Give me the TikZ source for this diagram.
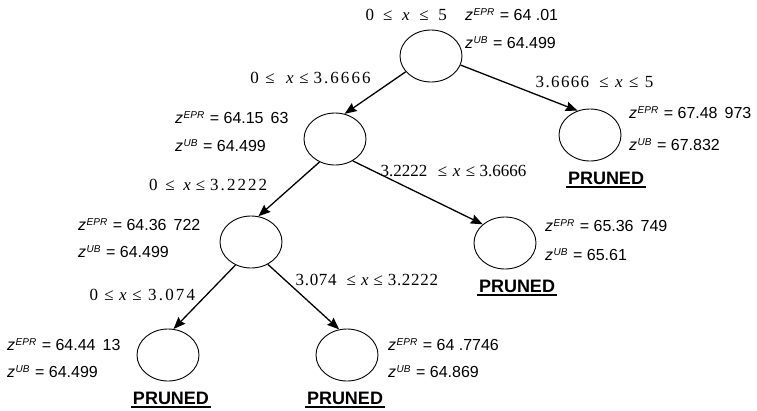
\documentclass[tikz,border=0pt]{standalone}
\usepackage{fontspec}
\setmainfont{Liberation Serif}
\setsansfont{Liberation Sans}
\usetikzlibrary{arrows.meta,shapes.geometric}

% interval constraint a <= x <= b, with letter spacing #1 for the numbers and gaps #3..#6 (pt)
\newcommand\bnd[7]{{\addfontfeature{LetterSpace=#1}#2}\hspace{#3pt}≤\hspace{#4pt}\textit{x}\hspace{#5pt}≤\hspace{#6pt}{\addfontfeature{LetterSpace=#1}#7}}
% objective value / upper bound of a subproblem
\newcommand\zval[2]{\textit{z}\hspace{0.5pt}\raisebox{5pt}{\fontsize{10}{10}\selectfont\itshape #1}\hspace{5.5pt}=\hspace{4.5pt}#2}
\newcommand\zsp{\hspace{7pt}}

\begin{document}
\begin{tikzpicture}[x=1pt,y=-1pt,
  bb/.style={ellipse,draw,line width=0.9pt,minimum width=62pt,minimum height=52pt,inner sep=0pt},
  branch/.style={line width=1.3pt,-{Stealth[length=12pt,width=9.5pt,inset=1.5pt]}},
  rangelbl/.style={anchor=base west,inner sep=0pt,font=\fontsize{17}{19}\selectfont},
  zlbl/.style={anchor=base west,inner sep=0pt,font=\sffamily\fontsize{16}{18}\selectfont},
  prunedlbl/.style={anchor=base,inner sep=0pt,font=\sffamily\bfseries\fontsize{18}{20}\selectfont},
  uline/.style={line width=1.2pt}
]
\useasboundingbox (0,0) rectangle (757,410);

% subproblems
\node[bb] (root) at (431,56) {};
\node[bb] (l1) at (335,139) {};
\node[bb] (r1) at (590,135) {};
\node[bb] (l2) at (251,242) {};
\node[bb] (r2) at (505,243) {};
\node[bb] (ll3) at (168,355) {};
\node[bb] (lr3) at (347,355) {};

% branches
\draw[branch] (root.212) -- (l1.69);
\draw[branch] (root.343) -- (r1.117);
\draw[branch] (l1.236) -- (l2.74);
\draw[branch] (l1.309) -- (r2.140);
\draw[branch] (l2.236) -- (ll3.78);
\draw[branch] (l2.307) -- (lr3.107);

% branching constraints
\node[rangelbl] (c0) at (365.5,20) {\bnd{0}{0}{9}{9.6}{9.7}{9.6}{5}};
\node[rangelbl] (c1) at (250.2,83) {\bnd{12}{0}{6.5}{11.5}{5.5}{5}{3.6666}};
\node[rangelbl] (c2) at (535.5,87) {\bnd{8}{3.6666}{10}{6.5}{6.5}{6.5}{5}};
\node[rangelbl] (c3) at (148.8,190) {\bnd{12}{0}{8}{8.5}{5}{5}{3.2222}};
\node[rangelbl] (c4) at (380.5,176.7) {\bnd{0}{3.2222}{10.5}{5.5}{5.5}{4.5}{3.6666}};
\node[rangelbl] (c5) at (89.5,300) {\bnd{13}{0}{6.2}{5.5}{5.5}{6.5}{3.074}};
\node[rangelbl] (c6) at (295.5,285) {\bnd{4}{3.074}{10}{5}{5}{5}{3.2222}};

% bounds at each node
\node[zlbl] (z0a) at (465,20.7) {\zval{EPR}{64 .01}};
\node[zlbl] (z0b) at (465,48.3) {\zval{UB}{64.499}};
\node[zlbl] (z1a) at (175,123.3) {\zval{EPR}{64.15\zsp63}};
\node[zlbl] (z1b) at (175,151.7) {\zval{UB}{64.499}};
\node[zlbl] (z2a) at (629,118.3) {\zval{EPR}{67.48\zsp973}};
\node[zlbl] (z2b) at (629,150.7) {\zval{UB}{67.832}};
\node[zlbl] (z3a) at (78,230) {\zval{EPR}{64.36\zsp722}};
\node[zlbl] (z3b) at (78,257.3) {\zval{UB}{64.499}};
\node[zlbl] (z4a) at (545,231.7) {\zval{EPR}{65.36\zsp749}};
\node[zlbl] (z4b) at (545,260) {\zval{UB}{65.61}};
\node[zlbl] (z5a) at (7,350.7) {\zval{EPR}{64.44\zsp13}};
\node[zlbl] (z5b) at (7,377.3) {\zval{UB}{64.499}};
\node[zlbl] (z6a) at (388,350.7) {\zval{EPR}{64 .7746}};
\node[zlbl] (z6b) at (388,377.3) {\zval{UB}{64.869}};

% pruned markers
\node[prunedlbl] (p1) at (606,184.5) {PRUNED};
\node[prunedlbl] (p2) at (517,292.5) {PRUNED};
\node[prunedlbl] (p3) at (171,404.5) {PRUNED};
\node[prunedlbl] (p4) at (345,404.5) {PRUNED};
\foreach \p in {p1,p2,p3,p4}
  \draw[uline] ([xshift=-1.5pt,yshift=-2.5pt]\p.base west) -- ([xshift=1.5pt,yshift=-2.5pt]\p.base east);
\end{tikzpicture}
\end{document}
